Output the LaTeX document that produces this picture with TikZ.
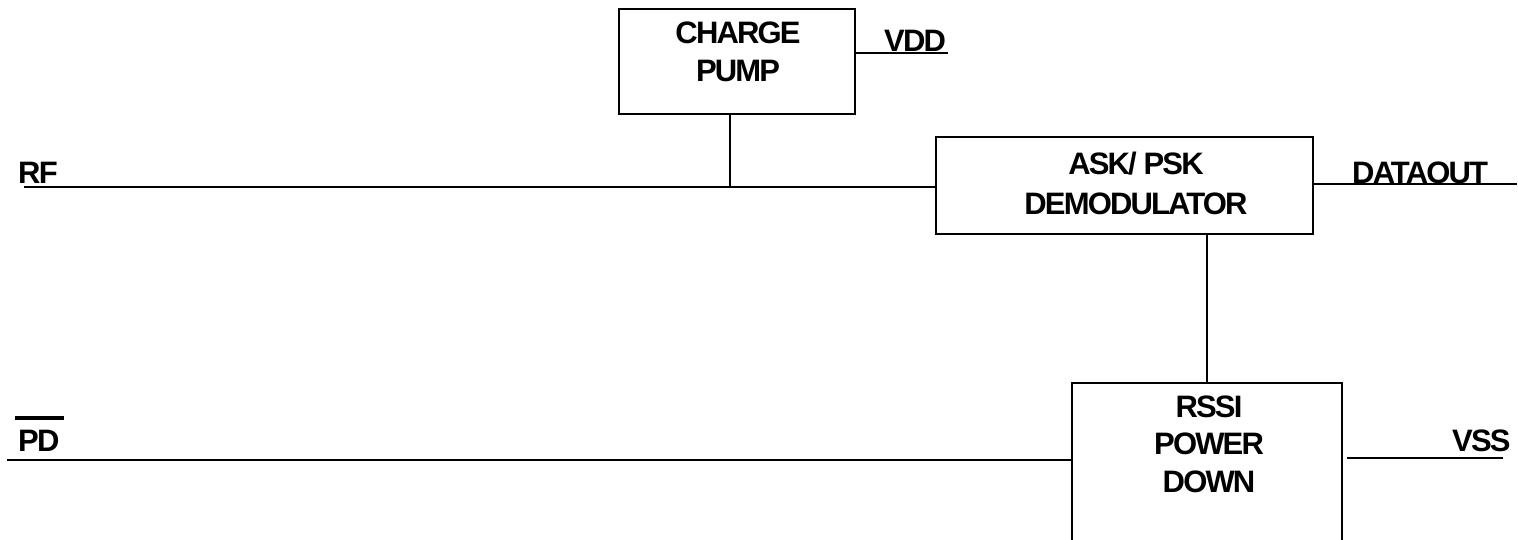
\documentclass[tikz,border=0pt]{standalone}
\usepackage{fontspec}
\setmainfont{Liberation Sans}
\newfontfamily\dfont[LetterSpace=-6]{Liberation Sans}
\begin{document}
\begin{tikzpicture}[x=1pt,y=-1pt,
  boxst/.style={draw,line width=2pt,inner sep=0pt},
  wire/.style={line width=2pt},
  lbl/.style={font=\dfont\bfseries\fontsize{31}{40}\selectfont,inner sep=0pt,align=center}
]
\useasboundingbox (0,0) rectangle (1518,539);
% blocks
\node[boxst,minimum width=236pt,minimum height=105pt] (cp) at (737,61.5) {};
\node[boxst,minimum width=377pt,minimum height=97pt] (dm) at (1124.5,185.5) {};
\node[boxst,minimum width=270pt,minimum height=177pt] (rs) at (1207,471.5) {};
% block texts
\node[lbl,anchor=north,font=\dfont\bfseries\fontsize{31}{38.5}\selectfont] (cpt) at (738,21.5) {CHARGE\\PUMP};
\node[lbl,anchor=north,font=\dfont\bfseries\fontsize{31}{40.5}\selectfont] (dmt) at (1136,151.5) {ASK/ PSK\\DEMODULATOR};
\node[lbl,anchor=north,font=\dfont\bfseries\fontsize{31}{37.5}\selectfont] (rst) at (1209,395.5) {RSSI\\POWER\\DOWN};
% pin labels
\node[lbl,anchor=base west] (rf) at (18,183) {RF};
\node[lbl,anchor=base west] (pd) at (18,451.5) {PD};
\node[lbl,anchor=base west] (vdd) at (884,51.5) {VDD};
\node[lbl,anchor=base west] (dataout) at (1352,183) {DATAOUT};
\node[lbl,anchor=base west] (vss) at (1452,451) {VSS};
\draw[line width=4pt] (15,418) coordinate (olA) -- (64,418);
% coordinates
\coordinate (rfin) at (24,187);
\coordinate (cpj) at (730,187);
\coordinate (vddend) at (948,53);
\coordinate (dout) at (1517,184);
\coordinate (pdin) at (7,460);
\coordinate (vssend) at (1503,458);
% wires
\draw[wire] (rfin) -- (rfin -| dm.west);
\draw[wire] (cp.south -| cpj) -- (cpj);
\draw[wire] (cp.east |- vddend) -- (vddend);
\draw[wire] (dm.east |- dout) -- (dout);
\draw[wire] (rs.north) -- (rs.north |- dm.south);
\draw[wire] (pdin) -- (pdin -| rs.west);
\draw[wire] ([xshift=4pt]rs.east |- vssend) -- (vssend);
\end{tikzpicture}
\end{document}
